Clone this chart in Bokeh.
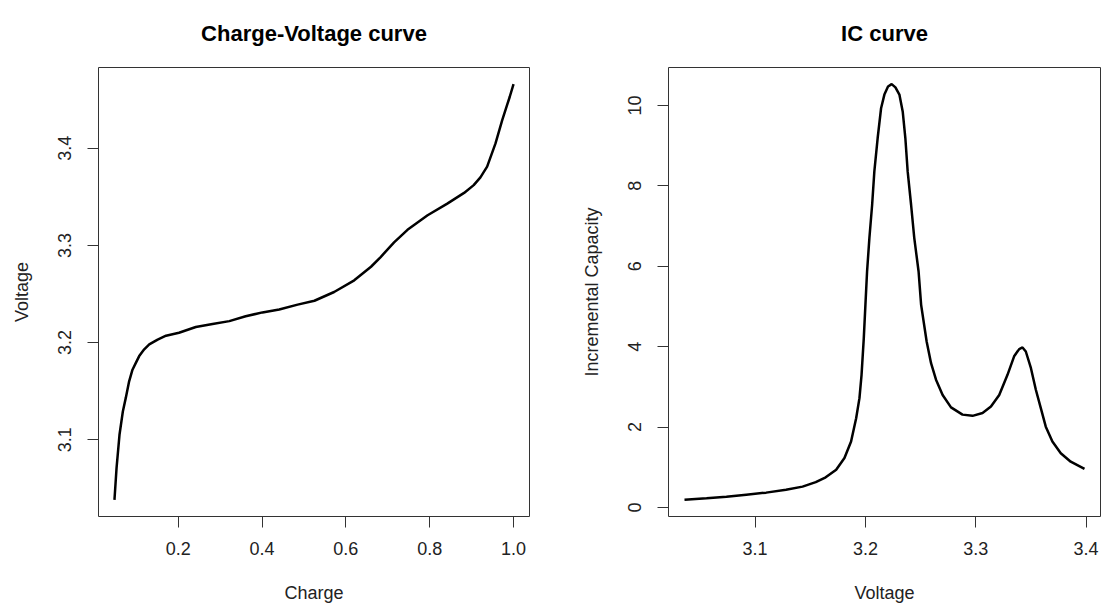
from bokeh.plotting import figure
from bokeh.layouts import row
from bokeh.models import Range1d, FixedTicker, PrintfTickFormatter
from bokeh.embed import file_html
from bokeh.resources import INLINE

# ---- data ----
charge = [0.048, 0.053, 0.060, 0.068, 0.075, 0.083, 0.091, 0.099, 0.107, 0.119,
          0.131, 0.151, 0.171, 0.202, 0.242, 0.282, 0.322, 0.361, 0.401, 0.441,
          0.485, 0.525, 0.572, 0.620, 0.660, 0.683, 0.715, 0.747, 0.795, 0.842,
          0.882, 0.905, 0.921, 0.937, 0.957, 0.973, 0.991, 1.000]
voltage = [3.038, 3.071, 3.105, 3.129, 3.143, 3.160, 3.172, 3.179, 3.186, 3.193,
           3.198, 3.203, 3.207, 3.210, 3.216, 3.219, 3.222, 3.227, 3.231, 3.234,
           3.239, 3.243, 3.252, 3.264, 3.278, 3.288, 3.303, 3.316, 3.331, 3.343,
           3.354, 3.362, 3.370, 3.381, 3.405, 3.429, 3.453, 3.466]

ic_voltage = [3.036, 3.056, 3.074, 3.092, 3.110, 3.128, 3.143, 3.155, 3.164, 3.1735,
              3.181, 3.187, 3.1916, 3.1946, 3.1965, 3.1985, 3.2000, 3.2015, 3.2036, 3.2061,
              3.2081, 3.2111, 3.2142, 3.2172, 3.2205, 3.2238, 3.2272, 3.2308, 3.2338, 3.2362,
              3.2383, 3.2414, 3.2443, 3.2482, 3.2505, 3.2555, 3.2595, 3.264, 3.270, 3.2776,
              3.288, 3.2971, 3.3062, 3.3138, 3.3213, 3.3288, 3.3348, 3.3394, 3.3424, 3.3454,
              3.350, 3.3545, 3.359, 3.3635, 3.3695, 3.3771, 3.3861, 3.3986]
ic_capacity = [0.19, 0.23, 0.27, 0.32, 0.37, 0.44, 0.52, 0.63, 0.75, 0.94,
               1.23, 1.64, 2.22, 2.72, 3.30, 4.20, 5.04, 5.87, 6.70, 7.53,
               8.36, 9.19, 9.93, 10.27, 10.47, 10.53, 10.45, 10.27, 9.85, 9.19,
               8.36, 7.53, 6.70, 5.87, 5.04, 4.13, 3.59, 3.18, 2.80, 2.49,
               2.31, 2.28, 2.35, 2.51, 2.80, 3.30, 3.76, 3.94, 3.98, 3.88,
               3.47, 2.93, 2.47, 2.01, 1.64, 1.35, 1.14, 0.96]

cv_xticks = [0.2, 0.4, 0.6, 0.8, 1.0]
cv_yticks = [3.1, 3.2, 3.3, 3.4]
ic_xticks = [3.1, 3.2, 3.3, 3.4]
ic_yticks = [0, 2, 4, 6, 8, 10]

FONT = "Liberation Sans"


def r_range(vals):
    lo, hi = min(vals), max(vals)
    pad = 0.04 * (hi - lo)
    return Range1d(lo - pad, hi + pad)


def style_axis(ax, ticks, fmt, label, vertical=False):
    ax.ticker = FixedTicker(ticks=ticks)
    ax.formatter = PrintfTickFormatter(format=fmt)
    ax.axis_line_color = None
    ax.major_tick_line_color = "#333333"
    ax.major_tick_line_width = 1
    ax.major_tick_out = 11
    ax.major_tick_in = 0
    ax.minor_tick_line_color = None
    ax.major_label_text_font = FONT
    ax.major_label_text_font_size = "18px"
    ax.major_label_text_color = "#222222"
    ax.axis_label = label
    ax.axis_label_text_font = FONT
    ax.axis_label_text_font_size = "18px"
    ax.axis_label_text_font_style = "normal"
    ax.axis_label_text_color = "#222222"
    if vertical:
        ax.major_label_orientation = "parallel"
        ax.major_label_standoff = 16
        ax.axis_label_standoff = 24
    else:
        ax.major_label_standoff = 14
        ax.axis_label_standoff = 25


def make_fig(title, xs, ys, xticks, yticks, xfmt, yfmt, xlabel, ylabel,
             width, mbl, mbr):
    p = figure(width=width, height=606, output_backend="svg",
               toolbar_location=None,
               x_range=r_range(xs), y_range=r_range(ys),
               min_border_left=mbl, min_border_right=mbr,
               min_border_top=67, min_border_bottom=90)
    p.title.text = title
    p.title.align = "center"
    p.title.vertical_align = "top"
    p.title.text_font = FONT
    p.title.text_font_size = "22px"
    p.title.text_font_style = "bold"
    p.title.text_color = "#000000"
    p.title.standoff = 39
    p.xgrid.visible = False
    p.ygrid.visible = False
    p.outline_line_color = "#333333"
    p.outline_line_width = 1
    p.background_fill_color = "white"
    p.border_fill_color = "white"
    style_axis(p.below[0], xticks, xfmt, xlabel)
    style_axis(p.left[0], yticks, yfmt, ylabel, vertical=True)
    p.line(xs, ys, line_color="black", line_width=2.5)
    return p


p1 = make_fig("Charge-Voltage curve", charge, voltage, cv_xticks, cv_yticks,
              "%.1f", "%.1f", "Charge", "Voltage", 551, 98, 22)
p2 = make_fig("IC curve", ic_voltage, ic_capacity, ic_xticks, ic_yticks,
              "%.1f", "%d", "Voltage", "Incremental Capacity", 551, 117, 2)

layout = row(p1, p2)
open("out.html", "w").write(file_html(layout, INLINE))
